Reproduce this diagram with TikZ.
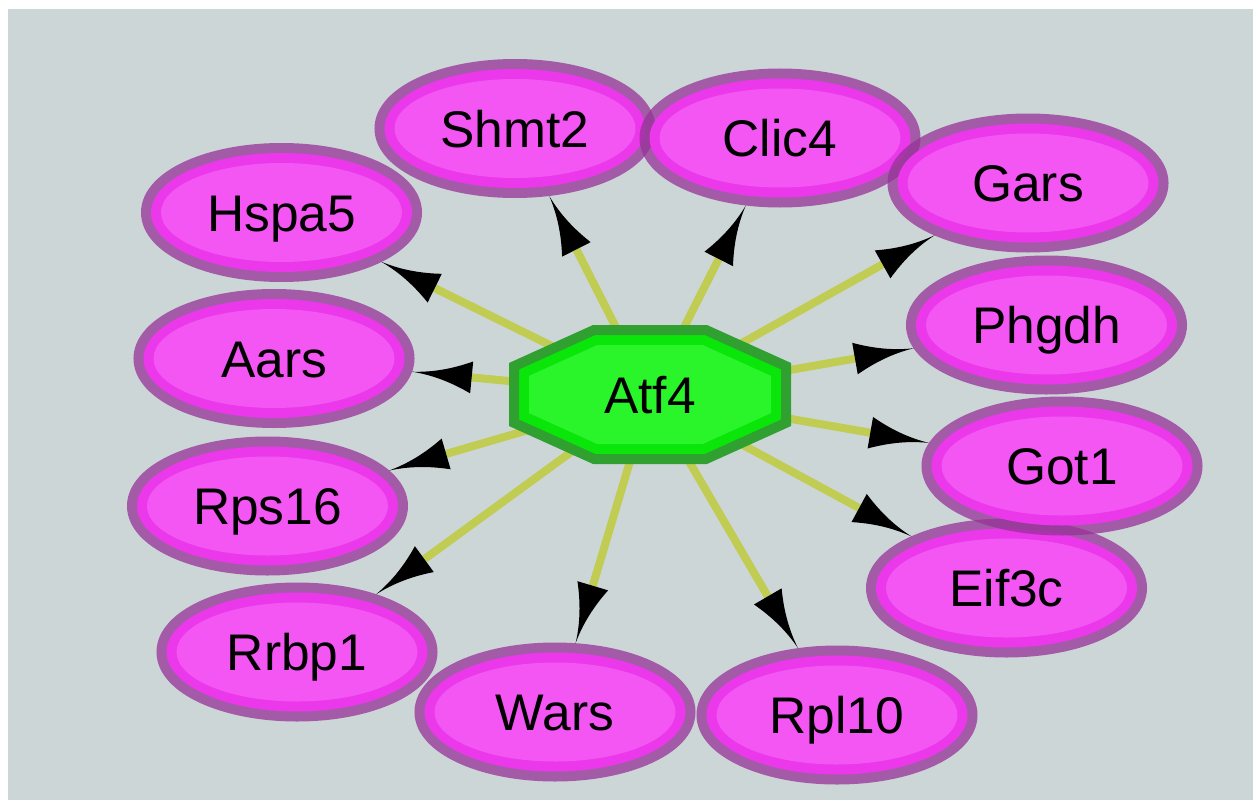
\documentclass[tikz,border=0pt]{standalone}
\usepackage{fontspec}
\setmainfont{Liberation Sans}
\usetikzlibrary{arrows.meta,shapes.geometric}
\pgfdeclarelayer{bg}
\pgfdeclarelayer{edges}
\pgfsetlayers{bg,edges,main}
\definecolor{bggray}{RGB}{205,214,215}
\definecolor{edgecol}{RGB}{192,204,82}
\definecolor{ringcol}{RGB}{150,50,152}
\definecolor{midmag}{RGB}{234,56,234}
\definecolor{innermag}{RGB}{243,86,243}
\definecolor{darkgrn}{RGB}{48,160,48}
\definecolor{midgrn}{RGB}{10,230,10}
\definecolor{innergrn}{RGB}{42,245,42}
\pgfdeclarearrow{
  name = Cave,
  parameters = {\the\pgfarrowlength,\the\pgfarrowwidth},
  setup code = {
    \pgfarrowssettipend{0pt}
    \pgfarrowssetlineend{-0.75\pgfarrowlength}
    \pgfarrowssetbackend{-\pgfarrowlength}
    \pgfarrowshullpoint{0pt}{0pt}
    \pgfarrowshullpoint{-\pgfarrowlength}{.5\pgfarrowwidth}
    \pgfarrowshullpoint{-\pgfarrowlength}{-.5\pgfarrowwidth}
    \pgfarrowssavethe\pgfarrowlength
    \pgfarrowssavethe\pgfarrowwidth
  },
  drawing code = {
    \pgfpathmoveto{\pgfqpoint{0pt}{0pt}}
    \pgfpathcurveto{\pgfpoint{-.35\pgfarrowlength}{.04\pgfarrowwidth}}{\pgfpoint{-.68\pgfarrowlength}{.22\pgfarrowwidth}}{\pgfpoint{-\pgfarrowlength}{.5\pgfarrowwidth}}
    \pgfpathlineto{\pgfpoint{-\pgfarrowlength}{-.5\pgfarrowwidth}}
    \pgfpathcurveto{\pgfpoint{-.68\pgfarrowlength}{-.22\pgfarrowwidth}}{\pgfpoint{-.35\pgfarrowlength}{-.04\pgfarrowwidth}}{\pgfqpoint{0pt}{0pt}}
    \pgfpathclose
    \pgfusepathqfill
  },
  defaults = {length = 60pt, width = 32pt}
}
\begin{document}
\begin{tikzpicture}[x=1pt,y=-1pt,
  gene/.style={ellipse, fill=midmag,
    preaction={draw=ringcol, draw opacity=.75, line width=20pt},
    minimum width=261pt, minimum height=119pt, inner sep=0pt, outer sep=10pt,
    text height=37pt, text depth=0pt, font=\fontsize{51.5}{60}\selectfont,
    path picture={\fill[innermag] (path picture bounding box.center) ellipse [x radius=120.5pt, y radius=49.5pt];}},
  hub/.style={inner sep=0pt, text height=37pt, text depth=0pt, font=\fontsize{51.5}{60}\selectfont},
  octout/.style={draw=darkgrn, line width=10pt, fill=midgrn},
  octin/.style={fill=innergrn},
  link/.style={line width=8pt, draw=edgecol, -{Cave[black]}}]
\useasboundingbox (0,0) rectangle (1253,800);
\begin{pgfonlayer}{bg}
  \fill[white] (0,0) rectangle (1253,800);
  \fill[bggray] (8,9) rectangle (1253,800);
\end{pgfonlayer}
% hub octagon
\begin{scope}[shift={(650,394.5)}]
  \path[octout] (-55.9,-64.5) -- (55.9,-64.5) -- (136,-28.3) -- (136,28.3) -- (55.9,64.5) -- (-55.9,64.5) -- (-136,28.3) -- (-136,-28.3) -- cycle;
  \path[octin] (-52.7,-49.5) -- (52.7,-49.5) -- (121,-18.6) -- (121,18.6) -- (52.7,49.5) -- (-52.7,49.5) -- (-121,18.6) -- (-121,-18.6) -- cycle;
\end{scope}
\node[hub] (atf4) at (650,394.5) {Atf4};
% targets
\node[gene] (shmt2) at (515,128.5) {Shmt2};
\node[gene] (clic4) at (780,138) {Clic4};
\node[gene] (gars) at (1028,183) {Gars};
\node[gene] (hspa5) at (281.5,212.5) {Hspa5};
\node[gene] (phgdh) at (1046.5,325) {Phgdh};
\node[gene] (aars) at (274,358.5) {Aars};
\node[gene] (eif3c) at (1006.5,588) {Eif3c};
\node[gene] (got1) at (1062,466) {Got1};
\node[gene] (rps16) at (267.5,506) {Rps16};
\node[gene] (rrbp1) at (297,652) {Rrbp1};
\node[gene] (wars) at (555,712) {Wars};
\node[gene] (rpl10) at (837,715) {Rpl10};
\begin{pgfonlayer}{edges}
  \foreach \t in {shmt2,clic4,gars,hspa5,phgdh,aars,got1,rps16,eif3c,rrbp1,wars,rpl10}
    \draw[link] (atf4.center) -- (\t);
\end{pgfonlayer}
\end{tikzpicture}
\end{document}
